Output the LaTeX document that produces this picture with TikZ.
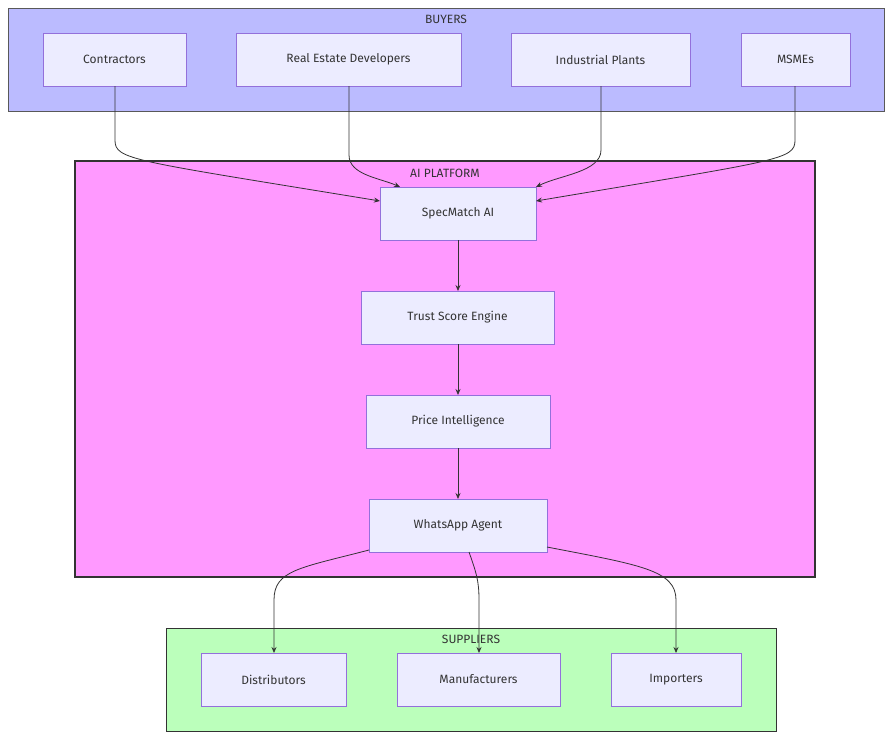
\documentclass[tikz,border=0pt]{standalone}
\usepackage{fontspec}
\setmainfont{Fira Sans}
\usetikzlibrary{arrows.meta}
\definecolor{nodefill}{HTML}{ECECFF}
\definecolor{nodeline}{HTML}{9370DB}
\definecolor{buy}{HTML}{BBBBFF}
\definecolor{ai}{HTML}{FF99FF}
\definecolor{sup}{HTML}{BBFFBB}
\definecolor{txt}{HTML}{333333}
\begin{document}
\begin{tikzpicture}[x=1pt,y=-1pt,
  box/.style={draw=nodeline,fill=nodefill,line width=0.8pt},
  grp/.style={draw=txt,line width=1pt},
  lbl/.style={text=txt,font=\fontsize{12}{14}\selectfont},
  ed/.style={draw=txt,line width=0.8pt,-{Stealth[length=6pt,width=5pt]}}]
\useasboundingbox (0,0) rectangle (893,740);
\fill[white] (0,0) rectangle (893,740);
% groups
\draw[grp,fill=buy,draw=gray!70!black] (8,8) rectangle (884,111);
\node[lbl] (tb) at (446,19) {BUYERS};
\draw[grp,fill=ai,line width=1.5pt] (75,161) rectangle (815,577);
\node[lbl] (ta) at (445,173) {AI PLATFORM};
\draw[grp,fill=sup] (166,628) rectangle (776,731);
\node[lbl] (ts) at (471,639) {SUPPLIERS};
% nodes
\newcommand{\bx}[5]{\draw[box] (#1,#2) rectangle (#3,#4);
  \node[lbl] (#5) at ({(#1+#3)/2},{(#2+#4)/2}) {};}
\draw[box] (43,33) rectangle (186,86); \node[lbl] (c) at (114.5,59.5) {Contractors};
\draw[box] (236,33) rectangle (461,86); \node[lbl] (r) at (348.5,59.5) {Real Estate Developers};
\draw[box] (511,33) rectangle (690,86); \node[lbl] (i) at (600.5,59.5) {Industrial Plants};
\draw[box] (741,33) rectangle (850,86); \node[lbl] (m) at (795.5,59.5) {MSMEs};
\draw[box] (380,187) rectangle (536,240); \node[lbl] (s) at (458,213.5) {SpecMatch AI};
\draw[box] (361,291) rectangle (554,344); \node[lbl] (t) at (457.5,317.5) {Trust Score Engine};
\draw[box] (366,395) rectangle (550,448); \node[lbl] (p) at (458,421.5) {Price Intelligence};
\draw[box] (369,499) rectangle (547,552); \node[lbl] (w) at (458,525.5) {WhatsApp Agent};
\draw[box] (201,653) rectangle (346,706); \node[lbl] (d) at (273.5,679.5) {Distributors};
\draw[box] (397,653) rectangle (560,706); \node[lbl] (mf) at (478.5,679.5) {Manufacturers};
\draw[box] (611,653) rectangle (741,706); \node[lbl] (im) at (676,679.5) {Importers};
\coordinate (s1) at (380,201); \coordinate (s2) at (400,187); \coordinate (s3) at (536,187); \coordinate (s4) at (536,201);
% edges
\draw[ed] (115,86) -- (115,140) .. controls (115,160) and (130,160) .. (s1);
\draw[ed] (349,86) -- (349,155) .. controls (349,175) and (380,178) .. (s2);
\draw[ed] (601,86) -- (601,150) .. controls (601,172) and (560,175) .. (s3);
\draw[ed] (795,86) -- (795,140) .. controls (795,160) and (780,160) .. (s4);
\draw[ed] (458,240) -- (458,291);
\draw[ed] (458,344) -- (458,395);
\draw[ed] (458,448) -- (458,499);
\draw[ed] (369,550) .. controls (300,568) and (274,570) .. (274,600) -- (274,653);
\draw[ed] (469,552) .. controls (476,572) and (479,580) .. (479,600) -- (479,653);
\draw[ed] (547,547) .. controls (640,565) and (676,570) .. (676,600) -- (676,653);
\end{tikzpicture}
\end{document}
